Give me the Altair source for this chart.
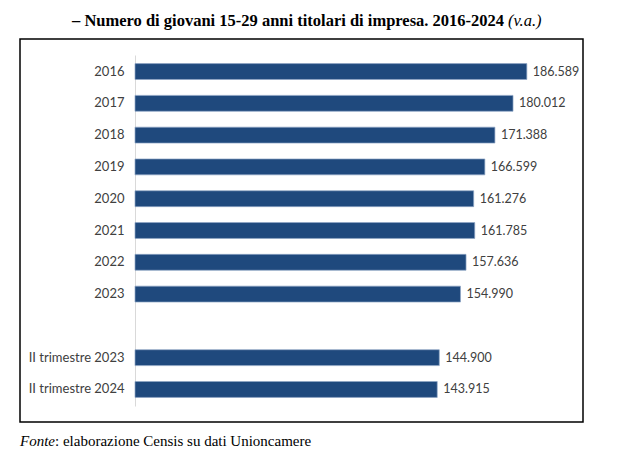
import altair as alt
import pandas as pd

categories = ["2016", "2017", "2018", "2019", "2020", "2021", "2022", "2023",
              "II trimestre 2023", "II trimestre 2024"]
values = [186589, 180012, 171388, 166599, 161276, 161785, 157636, 154990,
          144900, 143915]
labels = ["186.589", "180.012", "171.388", "166.599", "161.276", "161.785",
          "157.636", "154.990", "144.900", "143.915"]

domain = categories[:8] + [" "] + categories[8:]

df = pd.DataFrame({"cat": categories, "val": values, "lab": labels})

W, H = 420, 351
BAR = "#1F497D"

y_enc = alt.Y("cat:N", sort=domain,
              scale=alt.Scale(domain=domain, paddingInner=0.5, paddingOuter=0.27),
              axis=alt.Axis(title=None, ticks=False, domain=True, domainColor="#d9d9d9",
                            domainWidth=1, labelFont="Lato", labelFontSize=13,
                            labelColor="#404040", labelPadding=11, grid=False))
x_enc = alt.X("val:Q", scale=alt.Scale(domain=[0, 200000], nice=False), axis=None)

base = alt.Chart(df)
bars = base.mark_bar(color=BAR, stroke="#8fa6c6", strokeWidth=0.7).encode(x=x_enc, y=y_enc)
text = base.mark_text(align="left", baseline="middle", dx=6, font="Lato",
                      fontSize=12.5, color="#404040").encode(x=x_enc, y=y_enc, text="lab:N")

one = alt.Data(values=[{}])
box = alt.Chart(one).mark_rect(fill=None, stroke="black", strokeWidth=1.5).encode(
    x=alt.value(-115), x2=alt.value(448), y=alt.value(-16), y2=alt.value(367))
t1 = alt.Chart(one).mark_text(text="– Numero di giovani 15-29 anni titolari di impresa. 2016-2024",
                              align="left", baseline="alphabetic", font="Liberation Serif",
                              fontSize=16.5, fontWeight="bold", color="black").encode(
    x=alt.value(-63), y=alt.value(-29))
t2 = alt.Chart(one).mark_text(text="(v.a.)", align="left", baseline="alphabetic",
                              font="Liberation Serif", fontSize=16.5, fontStyle="italic",
                              color="black").encode(x=alt.value(373), y=alt.value(-29))
f1 = alt.Chart(one).mark_text(text="Fonte", align="left", baseline="alphabetic",
                              font="Liberation Serif", fontSize=15, fontStyle="italic",
                              color="black").encode(x=alt.value(-115), y=alt.value(391))
f2 = alt.Chart(one).mark_text(text=": elaborazione Censis su dati Unioncamere", align="left",
                              baseline="alphabetic", font="Liberation Serif", fontSize=15,
                              color="black").encode(x=alt.value(-80), y=alt.value(391))

chart = alt.layer(box, bars, text, t1, t2, f1, f2).properties(
    width=W, height=H,
    background="white",
    autosize=alt.AutoSizeParams(type="none"),
    padding={"left": 127, "top": 47, "right": 55, "bottom": 50},
).configure_view(stroke=None, strokeWidth=0)

chart.save("out.html", embed_options={"renderer": "svg", "actions": False})
